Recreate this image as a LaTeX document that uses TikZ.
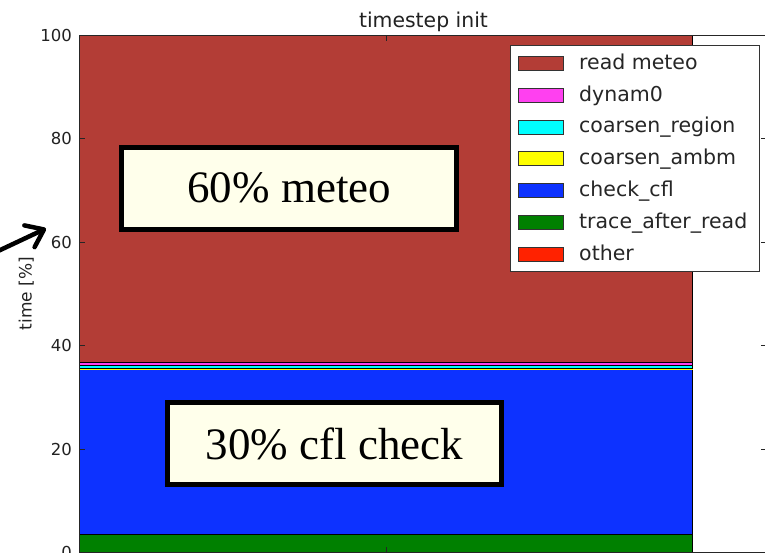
\documentclass[tikz,border=0pt]{standalone}
\usepackage{fontspec}
\setmainfont{DejaVu Sans}
\newfontfamily\boxserif{Liberation Serif}
\usetikzlibrary{arrows.meta}
\definecolor{meteo}{RGB}{179,61,54}
\definecolor{dynam}{RGB}{255,64,240}
\definecolor{cregion}{RGB}{0,255,255}
\definecolor{cambm}{RGB}{255,255,0}
\definecolor{cfl}{RGB}{13,50,255}
\definecolor{trace}{RGB}{0,128,0}
\definecolor{otherc}{RGB}{255,34,0}
\definecolor{boxfill}{RGB}{255,255,235}
\definecolor{txt}{RGB}{34,34,34}
\begin{document}
\begin{tikzpicture}[x=1pt,y=-1pt,
  seg/.style={draw=black,line width=0.8pt},
  ticklab/.style={anchor=east,inner sep=0pt,text=txt,font=\fontsize{16.5}{19}\selectfont},
  legtext/.style={anchor=base west,inner sep=0pt,text=black!85,font=\fontsize{20.5}{24}\selectfont},
  legpatch/.style={draw=black!80,line width=0.8pt,minimum width=45pt,minimum height=14pt,inner sep=0pt},
  callout/.style={draw=black,line width=5pt,fill=boxfill,minimum width=334.5pt,minimum height=81.5pt,inner sep=0pt,font=\boxserif\fontsize{45}{50}\selectfont}]
\useasboundingbox (0,0) rectangle (765,552);
% stacked bar
\fill[trace,seg] (79,534.5) rectangle (692.5,553);
\fill[cfl,seg] (79,368.8) rectangle (692.5,534.5);
\fill[cambm,seg] (79,368.6) rectangle (692.5,368.8);
\fill[cregion,seg] (79,365.6) rectangle (692.5,368.6);
\fill[dynam,seg] (79,362) rectangle (692.5,365.6);
\fill[meteo,seg] (79,35) rectangle (692.5,362);
% axes frame
\draw[black!85,line width=0.9pt] (79,35) rectangle (767,552.5);
% ticks
\foreach \v in {0,20,40,60,80,100}{
  \pgfmathsetmacro\yy{552.5-5.175*\v}
  \draw[black!85,line width=0.8pt] (79,\yy) -- (85,\yy);
  \draw[black!85,line width=0.8pt] (767,\yy) -- (761,\yy);
  \node[ticklab] (yt\v) at (72,\yy) {\v};
}
\draw[black!85,line width=0.8pt] (386,35) -- (386,41);
\draw[black!85,line width=0.8pt] (386,552.5) -- (386,546.5);
% title and axis label
\node[anchor=base,inner sep=0pt,text=txt,font=\fontsize{20.4}{24}\selectfont] (title) at (423.5,27) {timestep init};
\node[anchor=base,rotate=90,inner sep=0pt,text=txt,font=\fontsize{17}{20}\selectfont] (ylab) at (31.5,293.5) {time [\%]};
% legend
\node[draw=black!80,fill=white,line width=0.9pt,minimum width=249pt,minimum height=226pt,inner sep=0pt] (legend) at (634.5,158) {};
\foreach \i/\c/\t in {0/meteo/read meteo,1/dynam/dynam0,2/cregion/coarsen\_region,3/cambm/coarsen\_ambm,4/cfl/check\_cfl,5/trace/trace\_after\_read,6/otherc/other}{
  \pgfmathsetmacro\ry{63.3+31.8*\i}
  \node[legpatch,fill=\c] (lp\i) at (540.5,\ry) {};
  \node[legtext] (lt\i) at (579,\ry+6) {\t};
}
% callouts
\node[callout] (meteobox) at (289.2,188.3) {60\% meteo};
\node[callout] (cflbox) at (334.5,443.7) {30\% cfl check};
% arrow
\coordinate (arrtail) at (-4,252);
\coordinate (arrtip) at (46,228.5);
\draw[line width=4.5pt,line cap=round,-{Straight Barb[length=16pt,width=24pt,line width=4.5pt,round]}] (arrtail) -- (arrtip);
\end{tikzpicture}
\end{document}
